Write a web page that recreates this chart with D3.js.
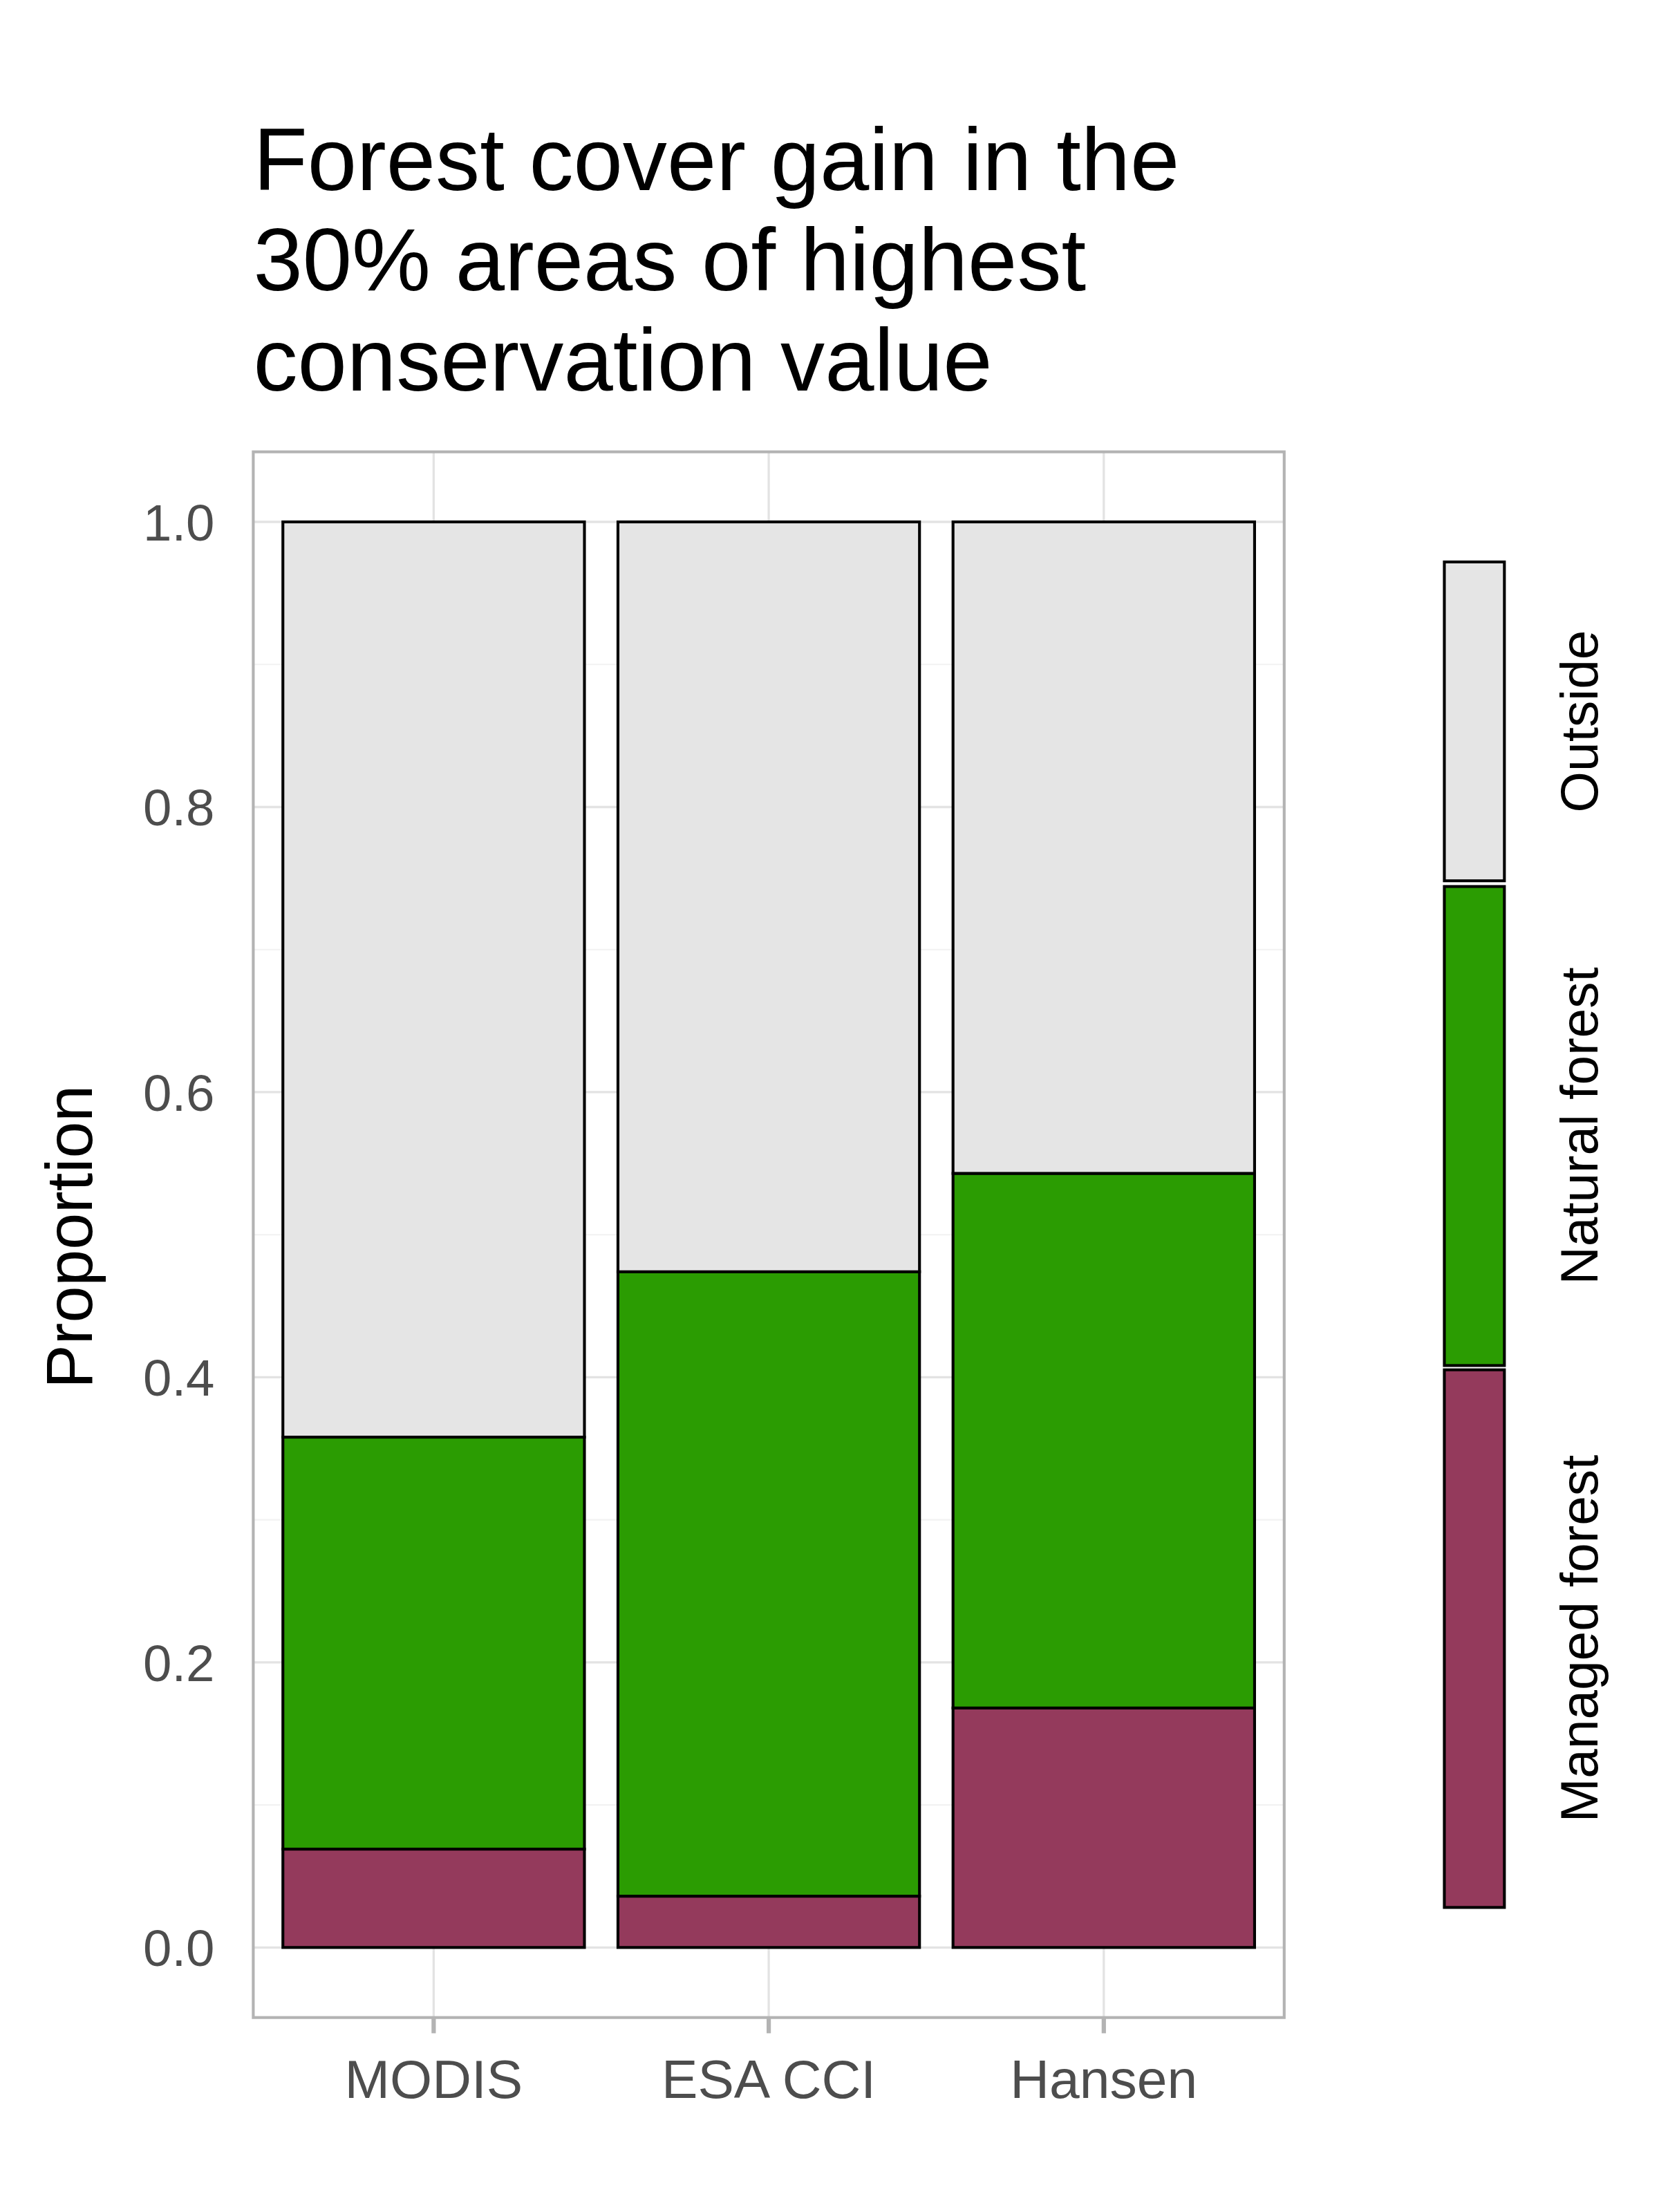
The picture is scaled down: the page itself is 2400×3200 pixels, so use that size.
<!DOCTYPE html>
<html><head><meta charset="utf-8">
<script src="https://cdn.jsdelivr.net/npm/d3@7"></script>
<style>body{margin:0;background:#fff}text{font-family:Arial,"Liberation Sans",sans-serif}</style>
</head><body>
<script>
const categories = ["MODIS","ESA CCI","Hansen"];
const series = ["Managed forest","Natural forest","Outside"];
const managed = [0.069,0.036,0.168];
const natural = [0.289,0.438,0.375];
const outside = [0.642,0.526,0.457];
const yTicks = [0,0.2,0.4,0.6,0.8,1.0];
const colors = ["#943a5c","#2b9c02","#e5e5e5"];
const titleLines = ["Forest cover gain in the","30% areas of highest","conservation value"];

const svg = d3.select("body").append("svg").attr("width",2400).attr("height",3200)
  .attr("viewBox","0 0 1160 1547");
svg.append("rect").attr("width",1160).attr("height",1547).attr("fill","#fff");
const L=177,R=898,T=316,B=1411;
const y = d3.scaleLinear().domain([0,1]).range([1362,365]);
const x = d3.scaleBand().domain(categories).range([L+9,R-9]).paddingInner(0.1).paddingOuter(0.05);
// grid
d3.range(0.1,1.01,0.2).concat([-0.05+0,1.05].slice(0,0)).forEach(v=>{
  svg.append("line").attr("x1",L).attr("x2",R).attr("y1",y(v)).attr("y2",y(v)).attr("stroke","#f2f2f2").attr("stroke-width",1);
});
yTicks.forEach(v=>{
  svg.append("line").attr("x1",L).attr("x2",R).attr("y1",y(v)).attr("y2",y(v)).attr("stroke","#e3e3e3").attr("stroke-width",1.6);
  svg.append("text").attr("x",150).attr("y",y(v)+13).attr("text-anchor","end").attr("font-size",36).attr("fill","#4d4d4d").text(v.toFixed(1));
});
categories.forEach(c=>{
  const cx=x(c)+x.bandwidth()/2;
  svg.append("line").attr("x1",cx).attr("x2",cx).attr("y1",T).attr("y2",B).attr("stroke","#e3e3e3").attr("stroke-width",1.6);
  svg.append("line").attr("x1",cx).attr("x2",cx).attr("y1",B).attr("y2",B+11).attr("stroke","#b3b3b3").attr("stroke-width",3);
  svg.append("text").attr("x",cx).attr("y",1467).attr("text-anchor","middle").attr("font-size",38).attr("fill","#4d4d4d").text(c);
});
// bars
const data = categories.map((c,i)=>({cat:c,"Managed forest":managed[i],"Natural forest":natural[i],"Outside":outside[i]}));
const stack = d3.stack().keys(series)(data);
stack.forEach((s,si)=>{
  svg.selectAll(null).data(s).enter().append("rect")
    .attr("x",d=>x(d.data.cat)).attr("width",x.bandwidth())
    .attr("y",d=>y(d[1])).attr("height",d=>y(d[0])-y(d[1]))
    .attr("fill",colors[si]).attr("stroke","#000").attr("stroke-width",2);
});
svg.append("rect").attr("x",L).attr("y",T).attr("width",R-L).attr("height",B-T).attr("fill","none").attr("stroke","#b3b3b3").attr("stroke-width",2);
// title
titleLines.forEach((t,i)=>svg.append("text").attr("x",177).attr("y",133+i*70).attr("font-size",62).attr("fill","#000").text(t));
svg.append("text").attr("transform","translate(64,865) rotate(-90)").attr("text-anchor","middle").attr("font-size",46).attr("fill","#000").text("Proportion");
// legend
const legBoxes=[[958,1334],[620,955],[393,616]];
series.forEach((s,i)=>{
  const [a,b]=legBoxes[i];
  svg.append("rect").attr("x",1010).attr("y",a).attr("width",42).attr("height",b-a).attr("fill",colors[i]).attr("stroke","#000").attr("stroke-width",2);
  svg.append("text").attr("transform",`translate(1117,${(a+b)/2}) rotate(-90)`).attr("text-anchor","middle").attr("font-size",37).attr("fill","#000").text(s);
});
</script>
</body></html>
